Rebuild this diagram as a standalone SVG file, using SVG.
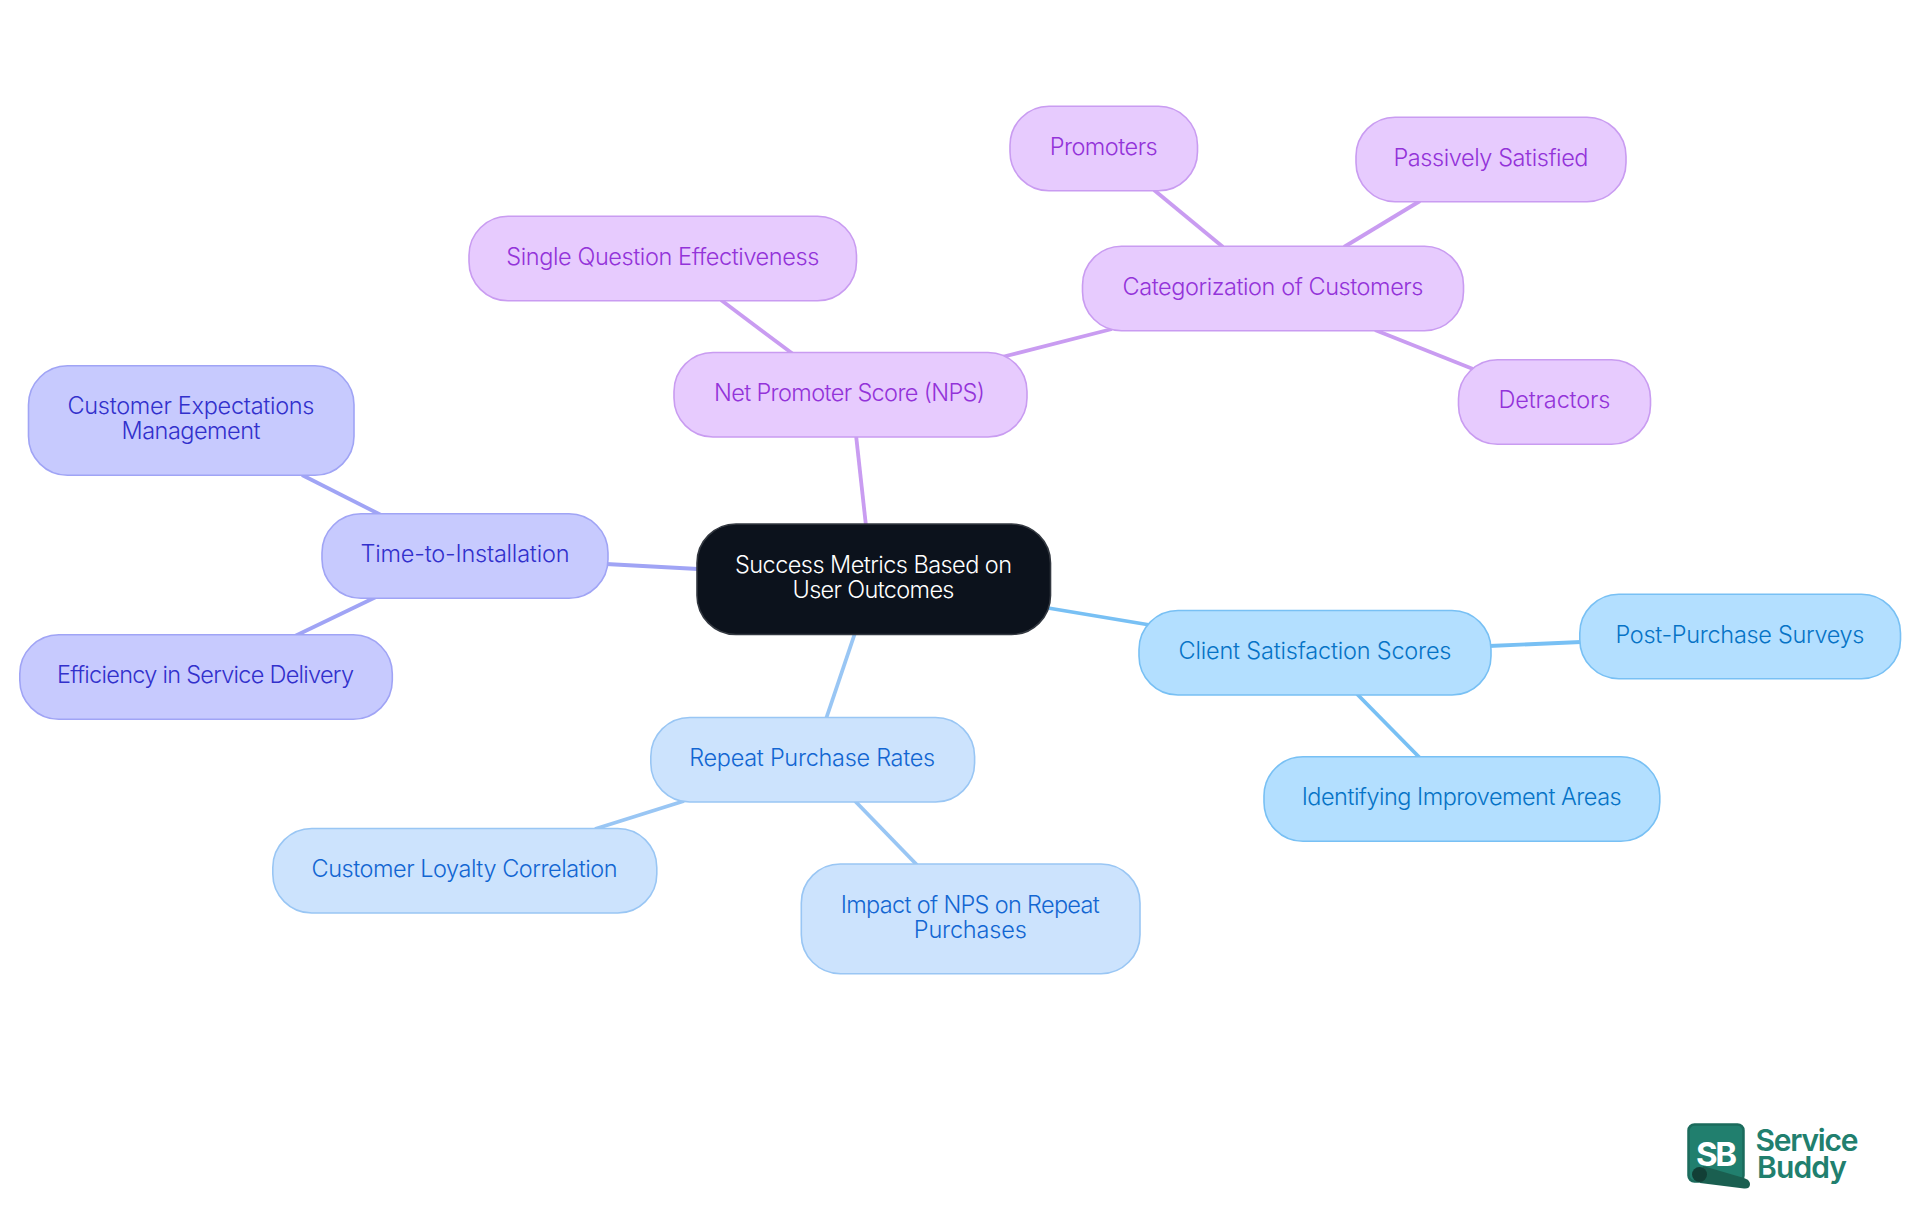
<svg xmlns="http://www.w3.org/2000/svg" width="1920" height="1215" viewBox="0 0 1920 1215">
<style>
text{font-family:"Inter","Noto Sans","Liberation Sans",sans-serif;font-size:23.5px;font-weight:350;text-anchor:middle}
rect.n{rx:39px;ry:39px;stroke-width:1.6}
.e{fill:none;stroke-width:3.8;stroke-linecap:butt}
.p rect{fill:#E7CBFE;stroke:#C99CF1}.p text{fill:#9333D9}
.i rect{fill:#C7CAFE;stroke:#A0A4F5}.i text{fill:#3230CC}
.b rect{fill:#CCE3FD;stroke:#99C6F4}.b text{fill:#1266D2}
.s rect{fill:#B3DFFF;stroke:#78C0F4}.s text{fill:#0673C6}
.ep{stroke:#C99CF1}.ei{stroke:#A0A4F5}.eb{stroke:#99C6F4}.es{stroke:#78C0F4}
.logo{fill:#217F6E;font-weight:600;text-anchor:start}
</style>
<rect width="1920" height="1215" fill="#FFFFFF"/>
<g id="connectors">
<path class="e ep" d="M866 526L856 435"/>
<path class="e ep" d="M721 300L793 354"/>
<path class="e ep" d="M1002 357L1112 329"/>
<path class="e ep" d="M1154 190L1223 247"/>
<path class="e ep" d="M1420 201L1344 247"/>
<path class="e ep" d="M1375 330L1473 369"/>
<path class="e ei" d="M698 569L606 564"/>
<path class="e ei" d="M302 475L381 515"/>
<path class="e ei" d="M376 597L295 636"/>
<path class="e eb" d="M855 633L826 719"/>
<path class="e eb" d="M684 801L595 829"/>
<path class="e eb" d="M855 801L917 865"/>
<path class="e es" d="M1048 608L1150 625"/>
<path class="e es" d="M1489 646L1581 642"/>
<path class="e es" d="M1357 694L1420 758"/>
</g>
<g id="root"><rect class="n" x="697" y="524" width="353.500" height="110.500" fill="#0C121C" stroke="#333840"/><text x="873.500" y="572.700" fill="#FFFFFF" textLength="277">Success Metrics Based on</text><text x="873.500" y="597.700" fill="#FFFFFF" textLength="162">User Outcomes</text></g>
<g id="nps" class="p"><rect class="n" x="674" y="352.500" width="353" height="84.500"/><text x="849.500" y="401" textLength="271">Net Promoter Score (NPS)</text></g>
<g id="single-question" class="p"><rect class="n" x="469" y="216.300" width="387.500" height="84.500"/><text x="662.800" y="264.500" textLength="313">Single Question Effectiveness</text></g>
<g id="categorization" class="p"><rect class="n" x="1082.500" y="246.200" width="381" height="84.500"/><text x="1273" y="294.500" textLength="301">Categorization of Customers</text></g>
<g id="promoters" class="p"><rect class="n" x="1010" y="106.300" width="187.500" height="84.500"/><text x="1103.700" y="155" textLength="108">Promoters</text></g>
<g id="passively" class="p"><rect class="n" x="1356" y="117.200" width="270" height="84.500"/><text x="1491" y="165.800" textLength="195">Passively Satisfied</text></g>
<g id="detractors" class="p"><rect class="n" x="1458.500" y="359.800" width="192" height="84.500"/><text x="1554.500" y="408.200" textLength="112">Detractors</text></g>
<g id="time" class="i"><rect class="n" x="322" y="513.800" width="286" height="84.500"/><text x="465" y="562" textLength="209">Time-to-Installation</text></g>
<g id="expectations" class="i"><rect class="n" x="28.500" y="365.800" width="325.500" height="109.500"/><text x="191" y="414" textLength="247">Customer Expectations</text><text x="191" y="439" textLength="139">Management</text></g>
<g id="efficiency" class="i"><rect class="n" x="19.800" y="634.800" width="372.500" height="84.500"/><text x="205.500" y="683" textLength="297">Efficiency in Service Delivery</text></g>
<g id="repeat" class="b"><rect class="n" x="650.800" y="717.500" width="323.800" height="84.500"/><text x="812.200" y="766" textLength="246">Repeat Purchase Rates</text></g>
<g id="loyalty" class="b"><rect class="n" x="272.800" y="828.500" width="384" height="84.500"/><text x="464.500" y="877" textLength="306">Customer Loyalty Correlation</text></g>
<g id="impact" class="b"><rect class="n" x="801.300" y="864" width="338.700" height="109.700"/><text x="970.300" y="913.300" textLength="259">Impact of NPS on Repeat</text><text x="970.300" y="938.300" textLength="113">Purchases</text></g>
<g id="client" class="s"><rect class="n" x="1139" y="610.500" width="352" height="84.500"/><text x="1315" y="659" textLength="273">Client Satisfaction Scores</text></g>
<g id="post-purchase" class="s"><rect class="n" x="1579.800" y="594.200" width="320.700" height="84.500"/><text x="1740" y="642.700" textLength="249">Post-Purchase Surveys</text></g>
<g id="identifying" class="s"><rect class="n" x="1264" y="756.800" width="395.800" height="84.500"/><text x="1461.700" y="805.200" textLength="320">Identifying Improvement Areas</text></g>
<g id="logo">
<rect x="1688.500" y="1124.500" width="55" height="57" rx="6" fill="#217F6E" stroke="#1B6B5C" stroke-width="2.500"/>
<text x="1716.500" y="1166" style="font-size:33px;font-weight:700" fill="#FFFFFF" textLength="41">SB</text>
<path d="M1703 1166L1744 1178Q1750 1180 1750 1184Q1750 1189 1744 1188.500L1700 1183Z" fill="#1A5F50"/>
<circle cx="1699.500" cy="1174.500" r="7.500" fill="#123F36"/>
<text class="logo" x="1755.500" y="1151" style="font-size:30px" textLength="103">Service</text>
<text class="logo" x="1757" y="1177.500" style="font-size:30px" textLength="90">Buddy</text>
</g>
</svg>
